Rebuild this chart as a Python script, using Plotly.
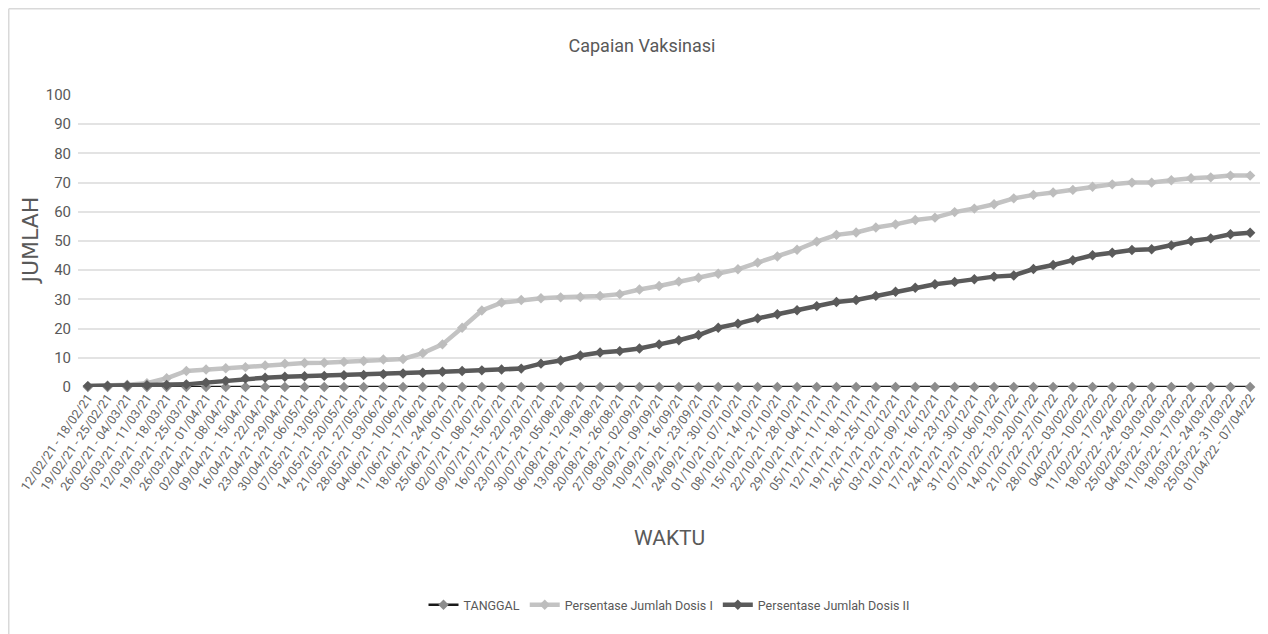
import plotly.graph_objects as go

week_labels = [
    "12/02/21 - 18/02/21", "19/02/21 - 25/02/21", "26/02/21 - 04/03/21", "05/03/21 - 11/03/21",
    "12/03/21 - 18/03/21", "19/03/21 - 25/03/21", "26/03/21 - 01/04/21", "02/04/21 - 08/04/21",
    "09/04/21 - 15/04/21", "16/04/21 - 22/04/21", "23/04/21 - 29/04/21", "30/04/21 - 06/05/21",
    "07/05/21 - 13/05/21", "14/05/21 - 20/05/21", "21/05/21 - 27/05/21", "28/05/21 - 03/06/21",
    "04/06/21 - 10/06/21", "11/06/21 - 17/06/21", "18/06/21 - 24/06/21", "25/06/21 - 01/07/21",
    "02/07/21 - 08/07/21", "09/07/21 - 15/07/21", "16/07/21 - 22/07/21", "23/07/21 - 29/07/21",
    "30/07/21 - 05/08/21", "06/08/21 - 12/08/21", "13/08/21 - 19/08/21", "20/08/21 - 26/08/21",
    "27/08/21 - 02/09/21", "03/09/21 - 09/09/21", "10/09/21 - 16/09/21", "17/09/21 - 23/09/21",
    "24/09/21 - 30/10/21", "01/10/21 - 07/10/21", "08/10/21 - 14/10/21", "15/10/21 - 21/10/21",
    "22/10/21 - 28/10/21", "29/10/21 - 04/11/21", "05/11/21 - 11/11/21", "12/11/21 - 18/11/21",
    "19/11/21 - 25/11/21", "26/11/21 - 02/12/21", "03/12/21 - 09/12/21", "10/12/21 - 16/12/21",
    "17/12/21 - 23/12/21", "24/12/21 - 30/12/21", "31/12/21 - 06/01/22", "07/01/22 - 13/01/22",
    "14/01/22 - 20/01/22", "21/01/22 - 27/01/22", "28/01/22 - 03/02/22", "0402/22 - 10/02/22",
    "11/02/22 - 17/02/22", "18/02/22 - 24/02/22", "25/02/22 - 03/03/22", "04/03/22 - 10/03/22",
    "11/03/22 - 17/03/22", "18/03/22 - 24/03/22", "25/03/22 - 31/03/22", "01/04/22 - 07/04/22",
]

tanggal = [0] * 60

dosis_1 = [
    0.3, 0.5, 0.8, 1.3, 3.0, 5.5, 6.0, 6.4, 6.8, 7.4,
    8.0, 8.2, 8.3, 8.6, 8.9, 9.4, 9.6, 11.6, 14.6, 20.3,
    26.2, 28.9, 29.8, 30.4, 30.7, 30.8, 31.2, 31.8, 33.4, 34.6,
    36.1, 37.4, 38.8, 40.3, 42.6, 44.7, 47.0, 49.8, 52.1, 52.9,
    54.6, 55.7, 57.2, 58.0, 59.9, 61.1, 62.6, 64.6, 65.8, 66.6,
    67.5, 68.6, 69.4, 70.0, 70.0, 70.8, 71.5, 71.8, 72.4, 72.4,
]

dosis_2 = [
    0.3, 0.4, 0.5, 0.6, 0.7, 0.9, 1.5, 2.1, 2.9, 3.2,
    3.5, 3.7, 3.8, 4.0, 4.1, 4.4, 4.6, 4.9, 5.2, 5.5,
    5.7, 6.0, 6.3, 8.0, 9.1, 10.8, 11.8, 12.3, 13.2, 14.6,
    16.0, 17.8, 20.3, 21.7, 23.5, 24.9, 26.3, 27.7, 29.1, 29.8,
    31.2, 32.6, 34.0, 35.2, 36.0, 36.9, 37.8, 38.2, 40.4, 41.8,
    43.4, 45.1, 46.0, 46.9, 47.2, 48.5, 50.0, 50.9, 52.3, 52.8,
]

FONT = "Roboto, sans-serif"
GREY = "#595959"

ML, MR, MT, MB = 70, 16, 87, 255
PW = 1268 - ML - MR
PH = 634 - MT - MB

fig = go.Figure()
fig.add_trace(go.Scatter(
    x=week_labels, y=tanggal, name="TANGGAL", mode="lines+markers",
    line=dict(color="#1a1a1a", width=2.5),
    marker=dict(symbol="diamond", size=8, color="#8c8c8c"),
    cliponaxis=False,
))
fig.add_trace(go.Scatter(
    x=week_labels, y=dosis_1, name="Persentase Jumlah Dosis I", mode="lines+markers",
    line=dict(color="#c3c3c3", width=4.5),
    marker=dict(symbol="diamond", size=8, color="#bdbdbd"),
    cliponaxis=False,
))
fig.add_trace(go.Scatter(
    x=week_labels, y=dosis_2, name="Persentase Jumlah Dosis II", mode="lines+markers",
    line=dict(color="#5a5a5a", width=4.5),
    marker=dict(symbol="diamond", size=8, color="#5a5a5a"),
    cliponaxis=False,
))

fig.update_layout(
    width=1268, height=634,
    paper_bgcolor="white", plot_bgcolor="white",
    margin=dict(l=ML, r=MR, t=MT, b=MB, autoexpand=False),
    title=dict(text="Capaian Vaksinasi", x=0.5, xanchor="center", y=0.94, yanchor="middle",
               font=dict(family=FONT, size=18, color=GREY)),
    showlegend=True,
    legend=dict(orientation="h", x=0.5, xanchor="center", y=-0.747, yanchor="middle",
                font=dict(family=FONT, size=12.5, color=GREY), itemwidth=30),
    font=dict(family=FONT, color=GREY),
)
fig.update_xaxes(
    type="category", range=[-0.5, 59.5], tickangle=-55,
    tickfont=dict(family=FONT, size=12.5, color="#666666"),
    showgrid=False, showline=False, ticks="", zeroline=False, automargin=False,
)
fig.update_yaxes(
    range=[0, 100], dtick=10, tickfont=dict(family=FONT, size=15, color=GREY),
    showgrid=True, gridcolor="#e3e3e3", gridwidth=1.5, zeroline=False, showline=False, ticks="",
    ticklabelstandoff=6, automargin=False,
)
fig.add_annotation(text="WAKTU", xref="paper", yref="paper", x=0.5, y=-0.517,
                   xanchor="center", yanchor="middle",
                   showarrow=False, font=dict(family=FONT, size=21, color=GREY))
fig.add_annotation(text="JUMLAH", xref="paper", yref="paper", x=-0.041, y=0.50,
                   xanchor="center", yanchor="middle",
                   textangle=-90, showarrow=False,
                   font=dict(family="DejaVu Sans, sans-serif", size=22, color=GREY))

# chart-area border (top and left edges)
x_left = (0.75 - ML) / PW
y_top = 1 + (MT - 0.75) / PH
fig.add_shape(type="line", xref="paper", yref="paper", x0=x_left, x1=1.2, y0=y_top, y1=y_top,
              line=dict(color="#d9d9d9", width=1.5))
fig.add_shape(type="line", xref="paper", yref="paper", x0=x_left, x1=x_left, y0=y_top, y1=-1.2,
              line=dict(color="#d9d9d9", width=1.5))

fig.write_html("out.html")
